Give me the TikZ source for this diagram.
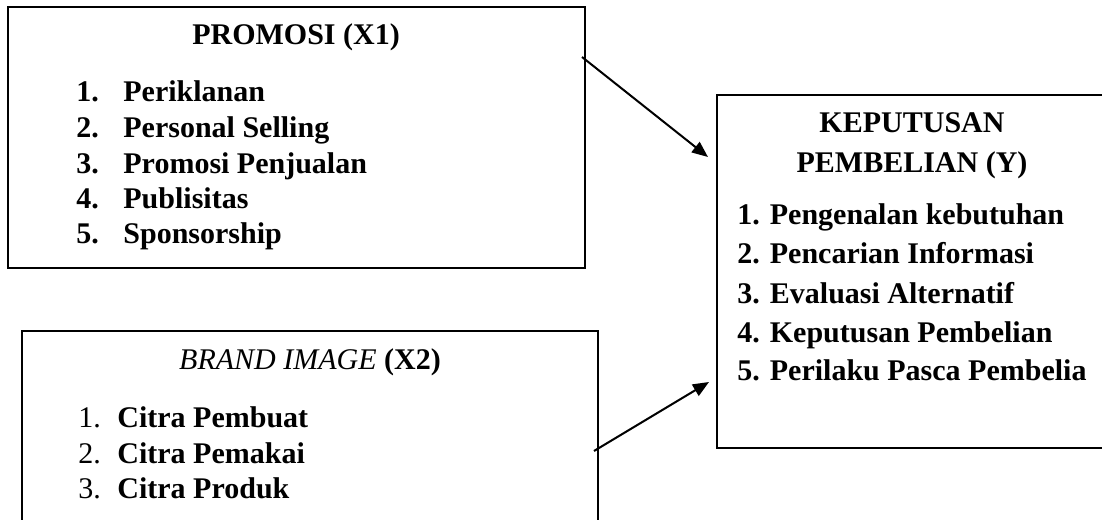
\documentclass[tikz,border=0pt]{standalone}
\usepackage{fontspec}
\setmainfont{Liberation Serif}
\usetikzlibrary{arrows.meta,calc}

\begin{document}
\begin{tikzpicture}[x=0.5pt,y=-0.5pt,>={Triangle[length=8pt,width=6.5pt]},
  box/.style={draw,line width=1pt,inner sep=0pt},
  txt/.style={inner sep=0pt,font=\fontsize{15}{18}\selectfont\bfseries}]
  \clip (0,0) rectangle (1102,519);
  % boxes (box 2 and box 3 run past the page edge)
  \node[box,minimum width=288.5pt,minimum height=130.5pt] (x1box) at (296.5,137.5) {};
  \node[box,minimum width=288pt,minimum height=114.5pt] (x2box) at (310,445.5) {};
  \node[box,minimum width=195pt,minimum height=176.5pt] (ybox) at (912,271.5) {};
  % X1
  \node[txt,anchor=base] (x1title) at (296,45) {PROMOSI (X1)};
  \foreach \i/\y/\t in {1/102/Periklanan, 2/138/Personal Selling, 3/173/Promosi Penjualan,
                        4/208/Publisitas, 5/243/Sponsorship} {
    \node[txt,anchor=base west] (x1n\i) at (76,\y) {\i.};
    \node[txt,anchor=base west] (x1i\i) at (123,\y) {\t};
  }
  % X2
  \node[txt,anchor=base] (x2title) at (310,369) {\mdseries\itshape BRAND IMAGE \upshape\bfseries(X2)};
  \foreach \i/\y/\t in {1/427/Citra Pembuat, 2/463/Citra Pemakai, 3/498/Citra Produk} {
    \node[txt,anchor=base west] (x2n\i) at (78,\y) {\mdseries\i.};
    \node[txt,anchor=base west] (x2i\i) at (117,\y) {\t};
  }
  % Y
  \node[txt,anchor=base] (ytitle1) at (912,133) {KEPUTUSAN};
  \node[txt,anchor=base] (ytitle2) at (912,172) {PEMBELIAN (Y)};
  \foreach \i/\y/\t in {1/224/Pengenalan kebutuhan, 2/263/Pencarian Informasi, 3/303/Evaluasi Alternatif,
                        4/342/Keputusan Pembelian, 5/380/Perilaku Pasca Pembelia} {
    \node[txt,anchor=base west] (yi\i) at (737,\y) {\i. \t};
  }
  % arrows
  \coordinate (a1) at ($(x1box.north east)+(-4,51)$);
  \coordinate (b1) at ($(ybox.north west)+(-8,63)$);
  \coordinate (a2) at ($(x2box.north east)+(-5,121)$);
  \coordinate (b2) at ($(ybox.north west)+(-7,288)$);
  \draw[->,line width=1pt] (a1) -- (b1);
  \draw[->,line width=1pt] (a2) -- (b2);
\end{tikzpicture}
\end{document}
